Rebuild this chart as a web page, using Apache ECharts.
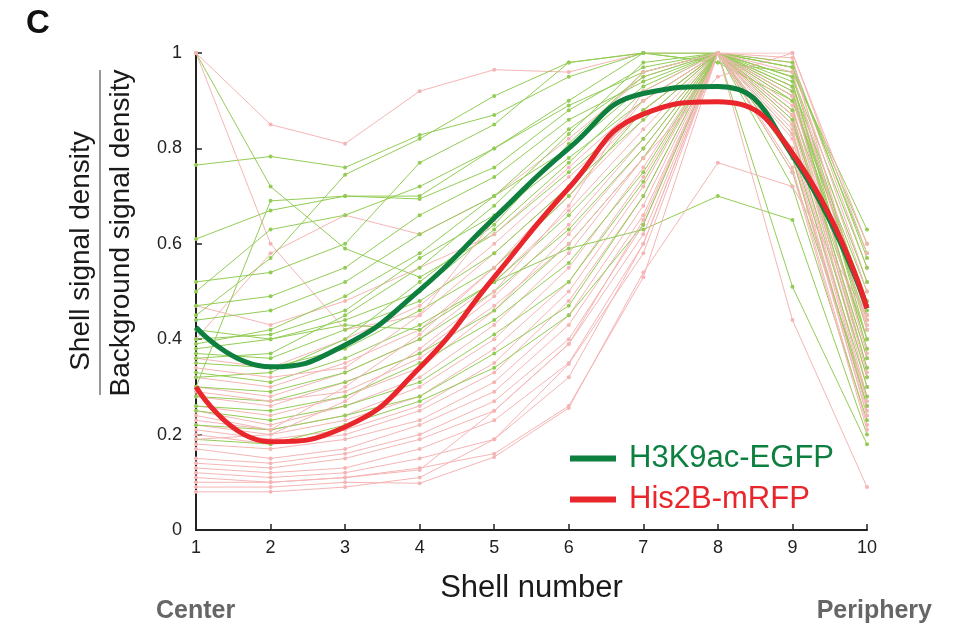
<!DOCTYPE html>
<html>
<head>
<meta charset="utf-8">
<script src="https://cdn.jsdelivr.net/npm/echarts@6/dist/echarts.min.js"></script>
<style>
  html, body { margin: 0; padding: 0; background: #fff; }
  #chart { width: 961px; height: 628px; }
</style>
</head>
<body>
<div id="chart"></div>
<script>
const shells = ["1", "2", "3", "4", "5", "6", "7", "8", "9", "10"];
const yTicks = [0, 0.2, 0.4, 0.6, 0.8, 1];

// individual cells, H3K9ac-EGFP (thin green)
const greenCells = [
  [1.00, 0.72, 0.59, 0.53, 0.62, 0.75, 0.88, 1.00, 0.93, 0.45],
  [0.765, 0.783, 0.76, 0.828, 0.87, 0.95, 1.00, 0.98, 0.90, 0.50],
  [0.61, 0.67, 0.70, 0.694, 0.76, 0.88, 0.97, 1.00, 0.95, 0.55],
  [0.30, 0.69, 0.70, 0.70, 0.80, 0.90, 1.00, 0.98, 0.96, 0.63],
  [0.52, 0.54, 0.60, 0.77, 0.85, 0.98, 1.00, 1.00, 0.97, 0.60],
  [0.45, 0.57, 0.745, 0.82, 0.91, 0.98, 1.00, 1.00, 0.98, 0.57],
  [0.47, 0.49, 0.55, 0.66, 0.74, 0.86, 0.94, 1.00, 0.93, 0.52],
  [0.44, 0.46, 0.52, 0.62, 0.70, 0.80, 0.93, 1.00, 0.90, 0.48],
  [0.40, 0.41, 0.46, 0.57, 0.66, 0.78, 0.90, 1.00, 0.88, 0.44],
  [0.38, 0.40, 0.44, 0.50, 0.63, 0.77, 0.92, 1.00, 0.85, 0.40],
  [0.37, 0.36, 0.42, 0.48, 0.58, 0.72, 0.86, 1.00, 0.92, 0.38],
  [0.35, 0.34, 0.38, 0.46, 0.55, 0.70, 0.88, 1.00, 0.87, 0.36],
  [0.33, 0.31, 0.36, 0.43, 0.52, 0.66, 0.82, 1.00, 0.86, 0.34],
  [0.30, 0.29, 0.33, 0.40, 0.50, 0.63, 0.80, 1.00, 0.83, 0.32],
  [0.28, 0.27, 0.31, 0.37, 0.46, 0.60, 0.78, 1.00, 0.80, 0.30],
  [0.26, 0.25, 0.28, 0.35, 0.44, 0.56, 0.75, 1.00, 0.75, 0.28],
  [0.25, 0.23, 0.26, 0.31, 0.41, 0.52, 0.73, 1.00, 0.78, 0.26],
  [0.22, 0.21, 0.24, 0.28, 0.37, 0.47, 0.70, 1.00, 0.72, 0.23],
  [0.19, 0.18, 0.22, 0.27, 0.34, 0.45, 0.64, 1.00, 0.51, 0.18],
  [0.42, 0.40, 0.43, 0.42, 0.52, 0.59, 0.63, 0.70, 0.65, 0.20],
  [0.50, 0.63, 0.66, 0.72, 0.80, 0.89, 0.96, 1.00, 0.97, 0.58],
  [0.39, 0.42, 0.49, 0.58, 0.70, 0.84, 0.95, 1.00, 0.91, 0.42],
  [0.36, 0.37, 0.45, 0.55, 0.68, 0.83, 0.98, 1.00, 0.95, 0.46],
  [0.32, 0.33, 0.40, 0.52, 0.64, 0.81, 0.96, 1.00, 0.94, 0.40]
];

// individual cells, His2B-mRFP (thin pink)
const redCells = [
  [1.00, 0.85, 0.81, 0.92, 0.965, 0.96, 1.00, 1.00, 0.98, 0.55],
  [1.00, 0.60, 0.42, 0.45, 0.58, 0.72, 0.88, 1.00, 0.95, 0.50],
  [0.40, 0.58, 0.66, 0.62, 0.70, 0.82, 0.95, 1.00, 0.97, 0.52],
  [0.47, 0.43, 0.48, 0.55, 0.62, 0.76, 0.90, 1.00, 0.92, 0.45],
  [0.36, 0.34, 0.40, 0.47, 0.60, 0.74, 0.88, 1.00, 0.93, 0.47],
  [0.32, 0.30, 0.35, 0.42, 0.55, 0.70, 0.86, 1.00, 0.90, 0.43],
  [0.30, 0.28, 0.33, 0.40, 0.52, 0.67, 0.84, 1.00, 0.88, 0.40],
  [0.28, 0.26, 0.31, 0.37, 0.49, 0.64, 0.82, 1.00, 0.91, 0.38],
  [0.26, 0.24, 0.28, 0.34, 0.46, 0.62, 0.80, 1.00, 0.86, 0.36],
  [0.25, 0.22, 0.26, 0.32, 0.43, 0.58, 0.78, 1.00, 0.89, 0.34],
  [0.23, 0.21, 0.24, 0.30, 0.40, 0.55, 0.76, 1.00, 0.85, 0.32],
  [0.22, 0.20, 0.23, 0.28, 0.38, 0.52, 0.74, 1.00, 0.87, 0.30],
  [0.21, 0.19, 0.21, 0.26, 0.35, 0.50, 0.72, 1.00, 0.84, 0.28],
  [0.20, 0.18, 0.20, 0.25, 0.33, 0.48, 0.70, 1.00, 0.82, 0.26],
  [0.18, 0.17, 0.19, 0.23, 0.31, 0.45, 0.68, 1.00, 0.80, 0.25],
  [0.17, 0.15, 0.17, 0.22, 0.29, 0.43, 0.66, 1.00, 0.78, 0.24],
  [0.15, 0.14, 0.16, 0.20, 0.27, 0.40, 0.64, 1.00, 0.76, 0.22],
  [0.14, 0.13, 0.15, 0.19, 0.25, 0.39, 0.62, 1.00, 0.75, 0.21],
  [0.13, 0.12, 0.13, 0.17, 0.23, 0.35, 0.60, 1.00, 0.79, 0.24],
  [0.12, 0.11, 0.12, 0.15, 0.19, 0.348, 0.58, 1.00, 0.83, 0.27],
  [0.11, 0.10, 0.11, 0.13, 0.16, 0.26, 0.53, 1.00, 0.87, 0.33],
  [0.10, 0.10, 0.11, 0.126, 0.25, 0.39, 0.65, 1.00, 0.91, 0.37],
  [0.09, 0.09, 0.10, 0.098, 0.153, 0.256, 0.54, 0.77, 0.72, 0.45],
  [0.08, 0.08, 0.09, 0.11, 0.19, 0.32, 0.60, 1.00, 0.44, 0.09],
  [0.24, 0.21, 0.30, 0.41, 0.55, 0.72, 0.90, 1.00, 0.96, 0.42],
  [0.19, 0.20, 0.27, 0.38, 0.50, 0.68, 0.92, 1.00, 0.99, 0.44],
  [0.34, 0.32, 0.34, 0.45, 0.65, 0.80, 0.96, 1.00, 1.00, 0.58],
  [0.29, 0.27, 0.29, 0.36, 0.47, 0.60, 0.78, 0.95, 1.00, 0.60]
];

// mean profiles (thick curves)
const greenMean = [0.425, 0.342, 0.388, 0.503, 0.654, 0.80, 0.915, 0.93, 0.785, 0.465];
const redMean = [0.30, 0.185, 0.216, 0.34, 0.53, 0.717, 0.872, 0.898, 0.79, 0.465];

const thinGreen = "#93cc55";
const thinPink = "#f5b5b5";
const darkGreen = "#0d7f3f";
const brightRed = "#e8262b";
const font = "Liberation Sans, Arial, sans-serif";

const series = [];
const n = Math.max(greenCells.length, redCells.length);
for (let i = 0; i < n; i++) {
  if (greenCells[i]) {
    series.push({
      name: "g" + i, type: "line", data: greenCells[i],
      symbol: "circle", symbolSize: 4, silent: true,
      lineStyle: { color: thinGreen, width: 1 },
      itemStyle: { color: thinGreen },
      z: 2
    });
  }
  if (redCells[i]) {
    series.push({
      name: "r" + i, type: "line", data: redCells[i],
      symbol: "circle", symbolSize: 4, silent: true,
      lineStyle: { color: thinPink, width: 1 },
      itemStyle: { color: thinPink },
      z: 2
    });
  }
}
series.push({
  name: "H3K9ac-EGFP", type: "line", data: greenMean, smooth: 0.5,
  showSymbol: false, lineStyle: { color: darkGreen, width: 5 },
  itemStyle: { color: darkGreen }, z: 5
});
series.push({
  name: "His2B-mRFP", type: "line", data: redMean, smooth: 0.5,
  showSymbol: false, lineStyle: { color: brightRed, width: 5 },
  itemStyle: { color: brightRed }, z: 6
});

const chart = echarts.init(document.getElementById("chart"));
chart.setOption({
  animation: false,
  backgroundColor: "#fff",
  grid: { left: 196, right: 94, top: 53, bottom: 98, containLabel: false },
  xAxis: {
    type: "category", data: shells, boundaryGap: false,
    name: "Shell number", nameLocation: "middle", nameGap: 43,
    nameTextStyle: { fontSize: 31, color: "#1a1a1a", fontFamily: font },
    axisLine: { lineStyle: { color: "#222", width: 2 } },
    axisTick: { inside: true, length: 6, lineStyle: { color: "#222", width: 1.5 } },
    axisLabel: { fontSize: 18, color: "#222", fontFamily: font, margin: 9 },
    splitLine: { show: false }
  },
  yAxis: {
    type: "value", min: 0, max: 1, interval: 0.2,
    axisLine: { show: true, lineStyle: { color: "#222", width: 2 } },
    axisTick: { show: true, inside: true, length: 6, lineStyle: { color: "#222", width: 1.5 } },
    axisLabel: {
      fontSize: 18, color: "#222", fontFamily: font, margin: 14,
      formatter: v => yTicks.includes(+v.toFixed(1)) ? String(+v.toFixed(1)) : ""
    },
    splitLine: { show: false }
  },
  legend: {
    orient: "vertical", left: 565, top: 438, itemGap: 10,
    icon: "rect", itemWidth: 46, itemHeight: 6,
    selectedMode: false,
    textStyle: { fontSize: 31, fontFamily: font, padding: [0, 0, 0, 8] },
    data: [
      { name: "H3K9ac-EGFP", textStyle: { color: darkGreen } },
      { name: "His2B-mRFP", textStyle: { color: brightRed } }
    ]
  },
  graphic: [
    { type: "text", left: 26, top: 7,
      style: { text: "C", font: "bold 33px " + font, fill: "#111" } },
    { type: "text", x: 81, y: 251, rotation: Math.PI / 2,
      style: { text: "Shell signal density", font: "28px " + font, fill: "#1a1a1a",
               align: "center", verticalAlign: "middle" } },
    { type: "line", shape: { x1: 100, y1: 70, x2: 100, y2: 395 },
      style: { stroke: "#333", lineWidth: 1 } },
    { type: "text", x: 121, y: 233, rotation: Math.PI / 2,
      style: { text: "Background signal density", font: "28px " + font, fill: "#1a1a1a",
               align: "center", verticalAlign: "middle" } },
    { type: "text", x: 156, y: 611,
      style: { text: "Center", font: "bold 25px " + font, fill: "#666",
               verticalAlign: "middle" } },
    { type: "text", x: 932, y: 611,
      style: { text: "Periphery", font: "bold 25px " + font, fill: "#666",
               align: "right", verticalAlign: "middle" } }
  ],
  series: series
});
</script>
</body>
</html>
